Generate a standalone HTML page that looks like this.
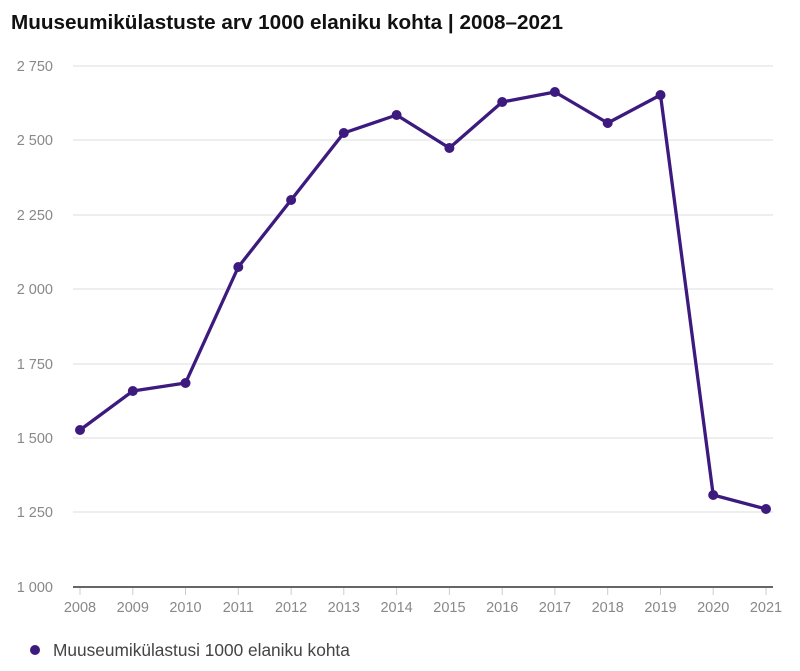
<!DOCTYPE html>
<html><head><meta charset="utf-8"><style>
body{margin:0;background:#fff;width:800px;height:666px;overflow:hidden;font-family:"Liberation Sans",sans-serif}
</style></head><body>
<svg width="800" height="666" xmlns="http://www.w3.org/2000/svg" font-family="Liberation Sans, sans-serif">
<text x="11" y="29" font-size="20.7" font-weight="bold" fill="#111">Muuseumikülastuste arv 1000 elaniku kohta | 2008–2021</text>
<g stroke="#ddd" stroke-width="1">
<line x1="73" x2="773" y1="66" y2="66"/><line x1="73" x2="773" y1="140" y2="140"/>
<line x1="73" x2="773" y1="215" y2="215"/><line x1="73" x2="773" y1="289" y2="289"/>
<line x1="73" x2="773" y1="364" y2="364"/><line x1="73" x2="773" y1="438" y2="438"/>
<line x1="73" x2="773" y1="512" y2="512"/>
</g>
<line x1="73" x2="773" y1="587" y2="587" stroke="#333" stroke-width="1.5"/>
<g font-size="14.5" fill="#888" text-anchor="end">
<text x="53" y="71">2 750</text><text x="53" y="145">2 500</text><text x="53" y="220">2 250</text>
<text x="53" y="294">2 000</text><text x="53" y="369">1 750</text><text x="53" y="443">1 500</text>
<text x="53" y="517">1 250</text><text x="53" y="592">1 000</text>
</g>
<g stroke="#ccc" stroke-width="1">
<line x1="80" x2="80" y1="588" y2="595"/><line x1="132.8" x2="132.8" y1="588" y2="595"/><line x1="185.5" x2="185.5" y1="588" y2="595"/><line x1="238.3" x2="238.3" y1="588" y2="595"/><line x1="291.1" x2="291.1" y1="588" y2="595"/><line x1="343.8" x2="343.8" y1="588" y2="595"/><line x1="396.6" x2="396.6" y1="588" y2="595"/><line x1="449.4" x2="449.4" y1="588" y2="595"/><line x1="502.2" x2="502.2" y1="588" y2="595"/><line x1="554.9" x2="554.9" y1="588" y2="595"/><line x1="607.7" x2="607.7" y1="588" y2="595"/><line x1="660.5" x2="660.5" y1="588" y2="595"/><line x1="713.2" x2="713.2" y1="588" y2="595"/><line x1="766" x2="766" y1="588" y2="595"/>
</g>
<g font-size="14.5" fill="#888" text-anchor="middle">
<text x="80" y="612">2008</text><text x="132.8" y="612">2009</text><text x="185.5" y="612">2010</text><text x="238.3" y="612">2011</text><text x="291.1" y="612">2012</text><text x="343.8" y="612">2013</text><text x="396.6" y="612">2014</text><text x="449.4" y="612">2015</text><text x="502.2" y="612">2016</text><text x="554.9" y="612">2017</text><text x="607.7" y="612">2018</text><text x="660.5" y="612">2019</text><text x="713.2" y="612">2020</text><text x="766" y="612">2021</text>
</g>
<polyline fill="none" stroke="#3d1a7e" stroke-width="3.3" stroke-linejoin="round" points="80,430 132.8,391 185.5,383 238.3,267 291.1,200 343.8,133 396.6,115 449.4,148 502.2,102 554.9,92 607.7,123 660.5,95 713.2,495 766,509"/>
<g fill="#3d1a7e">
<circle cx="80" cy="430" r="5"/><circle cx="132.8" cy="391" r="5"/><circle cx="185.5" cy="383" r="5"/><circle cx="238.3" cy="267" r="5"/><circle cx="291.1" cy="200" r="5"/><circle cx="343.8" cy="133" r="5"/><circle cx="396.6" cy="115" r="5"/><circle cx="449.4" cy="148" r="5"/><circle cx="502.2" cy="102" r="5"/><circle cx="554.9" cy="92" r="5"/><circle cx="607.7" cy="123" r="5"/><circle cx="660.5" cy="95" r="5"/><circle cx="713.2" cy="495" r="5"/><circle cx="766" cy="509" r="5"/>
<circle cx="35" cy="650" r="5"/>
</g>
<text x="53" y="656" font-size="17.3" fill="#444">Muuseumikülastusi 1000 elaniku kohta</text>
</svg>
</body></html>
